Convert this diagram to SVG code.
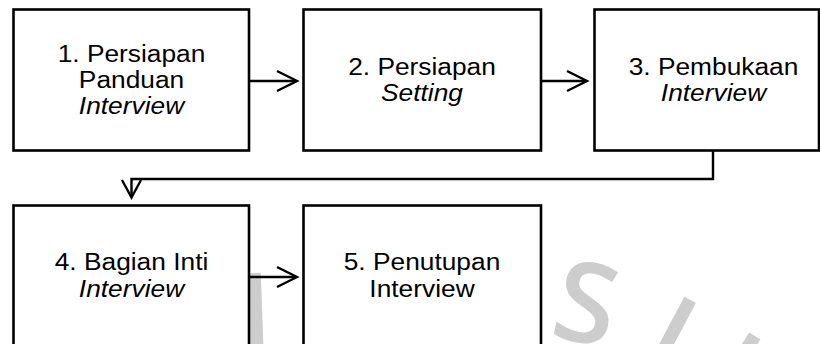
<svg xmlns="http://www.w3.org/2000/svg" width="820" height="344" viewBox="0 0 820 344">
  <style>
    .box { fill: #ffffff; stroke: #000000; stroke-width: 2.6; }
    .wire { fill: none; stroke: #000000; stroke-width: 2.4; stroke-linejoin: miter; }
    .label { font-family: "Liberation Sans", Arial, sans-serif; font-size: 23.5px; fill: #000000; text-anchor: middle; }
    .it { font-style: italic; }
    .mark { font-family: "Open Sans", "DejaVu Sans", sans-serif; font-size: 112px; font-weight: 600; fill: #cdcdcd; text-anchor: middle; }
  </style>

  <rect x="0" y="0" width="820" height="344" fill="#ffffff"/>

  <!-- background stamp lettering, partly hidden behind the boxes -->
  <g id="stamp">
    <text class="mark" transform="translate(257,353) rotate(-2)">I</text>
    <text class="mark" transform="translate(578,342) rotate(12)">S</text>
    <text class="mark" transform="translate(652.5,370.6) rotate(28)">I</text>
    <text class="mark" transform="translate(711.4,403) rotate(33)">I</text>
  </g>

  <g id="step1">
    <rect class="box" x="13.5" y="9.5" width="235.5" height="141"/>
    <g transform="translate(131.5,0) scale(1.12,1)">
      <text class="label" x="0" y="62">1. Persiapan</text>
      <text class="label" x="0" y="88">Panduan</text>
      <text class="label it" x="0" y="114">Interview</text>
    </g>
  </g>

  <g id="step2">
    <rect class="box" x="303.5" y="9.5" width="237.5" height="141"/>
    <g transform="translate(422,0) scale(1.12,1)">
      <text class="label" x="0" y="75.5">2. Persiapan</text>
      <text class="label it" x="0" y="101">Setting</text>
    </g>
  </g>

  <g id="step3">
    <rect class="box" x="594.5" y="9.5" width="224.5" height="141"/>
    <g transform="translate(713.5,0) scale(1.12,1)">
      <text class="label" x="0" y="75.5">3. Pembukaan</text>
      <text class="label it" x="0" y="101">Interview</text>
    </g>
  </g>

  <g id="step4">
    <rect class="box" x="13.5" y="205.5" width="235.5" height="142"/>
    <g transform="translate(131.5,0) scale(1.12,1)">
      <text class="label" x="0" y="270.5">4. Bagian Inti</text>
      <text class="label it" x="0" y="297">Interview</text>
    </g>
  </g>

  <g id="step5">
    <rect class="box" x="303.5" y="205.5" width="237.5" height="142"/>
    <g transform="translate(422,0) scale(1.12,1)">
      <text class="label" x="0" y="270.5">5. Penutupan</text>
      <text class="label" x="0" y="297">Interview</text>
    </g>
  </g>

  <g id="connectors">
    <!-- 1 -> 2 -->
    <line class="wire" x1="249" y1="81" x2="296" y2="81"/>
    <polyline class="wire" points="277,71 297,81 277,91"/>
    <!-- 2 -> 3 -->
    <line class="wire" x1="541" y1="81" x2="586" y2="81"/>
    <polyline class="wire" points="567,71 587,81 567,91"/>
    <!-- 3 -> 4 -->
    <polyline class="wire" points="713,150.5 713,179 131.5,179 131.5,196"/>
    <polyline class="wire" points="122,180 131.5,197.5 141,180"/>
    <!-- 4 -> 5 -->
    <line class="wire" x1="249" y1="277" x2="296" y2="277"/>
    <polyline class="wire" points="277,267 297,277 277,287"/>
  </g>
</svg>
